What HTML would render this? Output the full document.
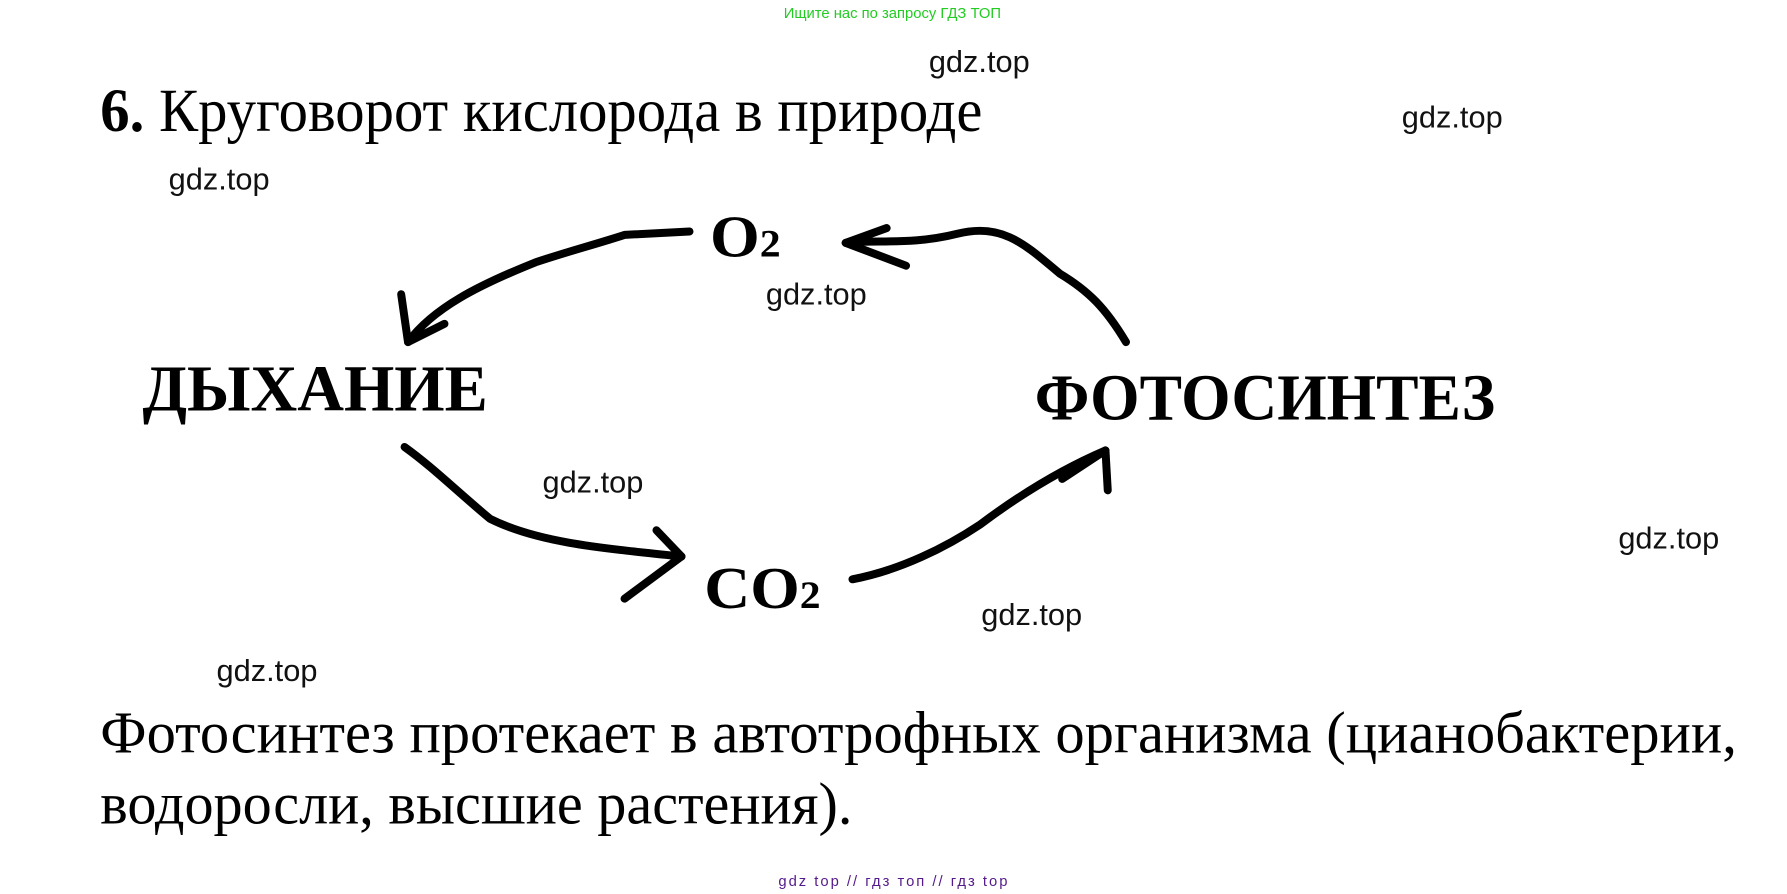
<!DOCTYPE html>
<html><head><meta charset="utf-8"><style>
html,body{margin:0;padding:0;background:#fff;}
svg{display:block;}
.g{font-family:"Liberation Sans",sans-serif;font-size:27px;fill:#111;}
.s{font-family:"Liberation Serif","Noto Serif CJK SC",serif;fill:#000;}
</style></head><body>
<svg width="1787" height="894" viewBox="0 0 1568 784" preserveAspectRatio="none" xmlns="http://www.w3.org/2000/svg">
<text x="783" y="16" text-anchor="middle" font-family="Liberation Sans,sans-serif" font-size="13" fill="#22cc22">Ищите нас по запросу ГДЗ ТОП</text>
<text class="g" x="815" y="63">gdz.top</text>
<text class="g" x="1230" y="112">gdz.top</text>
<text class="g" x="148" y="166">gdz.top</text>
<text class="g" x="672" y="267">gdz.top</text>
<text class="g" x="476" y="432">gdz.top</text>
<text class="g" x="1420" y="481">gdz.top</text>
<text class="g" x="861" y="548">gdz.top</text>
<text class="g" x="190" y="597">gdz.top</text>
<text class="s" x="88" y="115" font-size="54" textLength="774" lengthAdjust="spacingAndGlyphs"><tspan font-weight="bold">6.</tspan> Круговорот кислорода в природе</text>
<text class="s" x="125" y="360" font-size="58" font-weight="bold" textLength="303" lengthAdjust="spacingAndGlyphs">ДЫХАНИЕ</text>
<text class="s" x="908" y="368" font-size="58" font-weight="bold" textLength="404" lengthAdjust="spacingAndGlyphs">ФОТОСИНТЕЗ</text>
<text class="s" x="623" y="225" font-size="52" font-weight="bold" textLength="62" lengthAdjust="spacingAndGlyphs">O<tspan font-size="34">2</tspan></text>
<text class="s" x="618" y="533" font-size="52" font-weight="bold" textLength="102" lengthAdjust="spacingAndGlyphs">CO<tspan font-size="34">2</tspan></text>
<text class="s" x="88" y="660" font-size="52" textLength="1436" lengthAdjust="spacingAndGlyphs">Фотосинтез протекает в автотрофных организма (цианобактерии,</text>
<text class="s" x="88" y="722" font-size="52" textLength="660" lengthAdjust="spacingAndGlyphs">водоросли, высшие растения).</text>
<g fill="none" stroke="#000" stroke-width="7" stroke-linecap="round" stroke-linejoin="round">
<path d="M605,203 L548,206 C520,215 500,220 470,230 C420,250 380,270 358,300"/>
<path d="M352,258 L358,300 L390,284"/>
<path d="M988,300 C970,270 955,255 930,240 C900,215 880,195 840,205 C800,215 770,210 742,213"/>
<path d="M778,200 L742,213 L795,233"/>
<path d="M355,392 C380,410 400,430 430,455 C470,475 520,480 598,488"/>
<path d="M576,465 L598,488 L548,525"/>
<path d="M748,508 C790,500 830,480 860,460 C900,430 935,410 970,395"/>
<path d="M932,420 L970,395 L972,430"/>
</g>
<text x="683" y="777" font-family="Liberation Sans,sans-serif" font-size="13" fill="#551a8b" textLength="201" lengthAdjust="spacing">gdz top // гдз топ // гдз top</text>
</svg>
</body></html>
